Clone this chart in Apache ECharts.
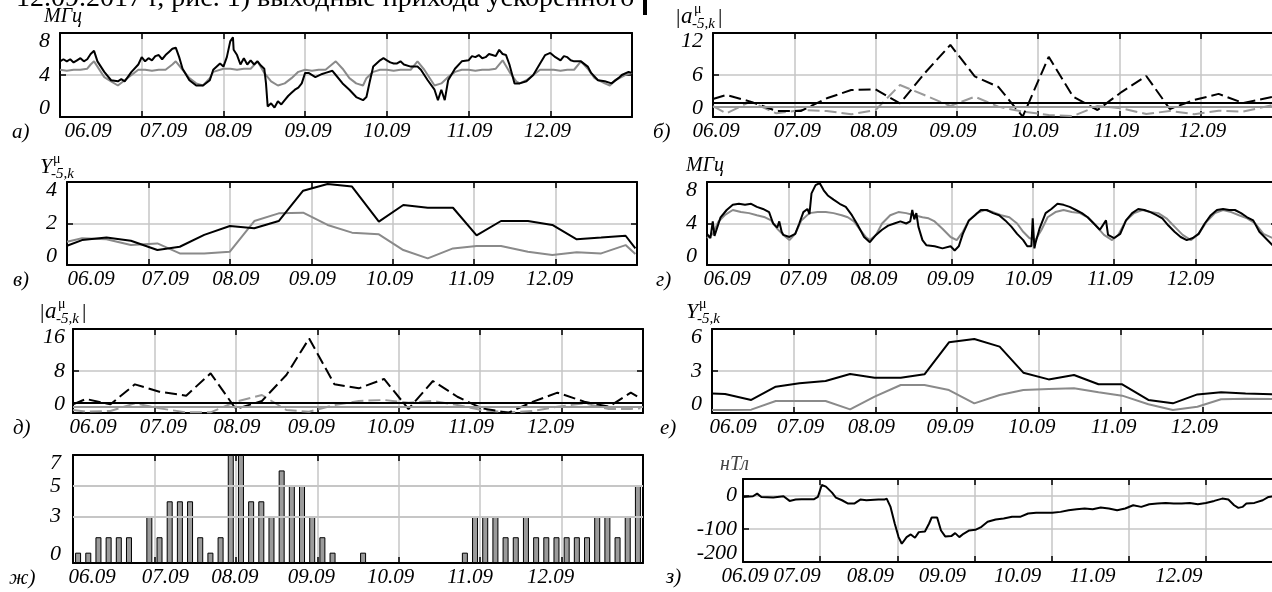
<!DOCTYPE html>
<html><head><meta charset="utf-8">
<script src="https://cdn.jsdelivr.net/npm/echarts@6/dist/echarts.min.js"></script>
<style>html,body{margin:0;padding:0;background:#fff}#c{width:1272px;height:592px}</style>
</head><body><div id="c"></div>
<script>
const FONT = '"Liberation Serif","Times New Roman",serif';
const dateLabels = ['06.09','07.09','08.09','09.09','10.09','11.09','12.09'];

// ---- panel а) (hours) ----
const aBlackHours = [0,1,2,3,4,5,6,7,8,9,10,11,13,15,17,18,19,21,23,24,25,26,27,28,29,30,31,32,33,34,35,36,38,40,42,44,45,47,48,49,50,50.8,51,52,53,54,55,56,57,58,59,60,60.5,61,62,63,64,65,66,67,68,69,70,71,72,73,75,77,78,80,81,83,85,87,89,90,91,92,94,95,96,97,98,99,100,101,103,105,106,108,110,111,112,113,114,116,118,120,121,122,123,124,125,126,127,128,129,130,131,132,133.5,135,137,139,141,142.5,144,145.5,147,148,149,150,151,153,155,156,158,160,162,164,165,167,168];
const aBlackValues = [5.3,5.5,5.3,5.5,5.2,5.4,5.6,5.3,5.5,6.0,6.3,5.3,4.3,3.5,3.4,3.6,3.4,4.3,5.0,5.7,5.3,5.6,5.4,5.8,5.9,5.5,5.9,6.2,6.5,6.6,5.7,4.6,3.5,3.0,3.0,3.5,4.5,5.1,4.8,5.7,7.2,7.6,6.4,5.9,5.0,5.6,5.0,5.4,5.0,5.3,4.9,4.6,3.2,1.0,1.3,0.9,1.5,1.2,1.6,2.0,2.3,2.6,2.8,3.2,4.2,4.2,3.8,4.1,4.2,4.4,4.0,3.2,2.6,1.9,1.6,1.9,3.4,4.8,5.4,5.6,5.4,5.2,5.1,5.1,5.3,5.0,4.8,4.8,4.5,3.5,2.6,1.6,2.6,1.6,3.5,4.6,5.3,5.4,5.8,5.7,5.9,5.6,5.7,6.0,5.9,5.8,6.4,6.0,5.9,5.0,3.2,3.2,3.4,4.0,5.1,5.9,6.1,5.7,5.4,5.8,5.7,5.4,5.3,5.3,4.8,4.2,3.5,3.4,3.2,3.7,4.0,4.3,4.2];
const aGrayHours = [0,2,4,6,8,9,10,11,13,15,17,19,21,23,25,27,29,31,33,34,36,38,40,42,44,45,48,50,52,54,56,58,60,62,64,66,68,70,72,74,76,78,81,83,85,87,89,90,92,94,96,98,100,103,105,107,109,110,112,114,116,118,120,122,124,126,128,130,132,134,135,137,139,141,143,145,147,149,151,153,155,157,160,161.5,163,166,168];
const aGrayValues = [4.5,4.4,4.5,4.5,4.6,5.0,5.3,4.8,3.8,3.4,3.0,3.5,4.0,4.5,4.5,4.4,4.5,4.5,5.0,5.3,4.5,3.7,3.2,3.0,3.7,4.3,4.6,4.6,4.5,4.6,4.6,5.3,4.2,3.4,3.0,3.2,3.7,4.3,4.5,4.4,4.5,4.5,5.3,4.6,3.7,3.2,3.0,3.7,4.3,4.5,4.5,4.4,4.5,4.5,5.3,4.5,3.5,3.0,3.2,3.8,4.3,4.5,4.5,4.4,4.5,4.5,4.6,5.4,4.3,3.4,3.2,3.5,4.0,4.5,4.5,4.5,4.4,4.5,4.5,5.3,4.6,3.7,3.2,3.0,3.5,4.0,4.2];

// ---- panel б) (days) ----
const bDays = [0,0.164,0.46,0.78,1.08,1.40,1.70,2.0,2.30,2.60,2.92,3.22,3.51,3.81,4.13,4.43,4.73,5.03,5.33,5.62,5.92,6.22,6.52,6.88];
const bBlackValues = [2.57,3.14,2.2,0.86,0.86,2.67,3.86,3.95,1.95,6.2,10.3,5.8,4.3,0.05,8.6,2.9,1.0,3.6,5.86,1.14,2.43,3.3,2.0,2.86];
const bGrayValues = [1.57,0.52,2.2,0.52,1.0,0.86,0.38,1.0,4.57,3.14,1.57,2.9,1.48,0.76,0.29,0.14,1.57,1.24,0.43,0.86,0.4,0.9,0.76,1.7];
const bThresholds = [2.0, 1.5];

// ---- panel в) (days) ----
const vDays = [0,0.185,0.485,0.785,1.11,1.385,1.685,2.0,2.3,2.6,2.9,3.2,3.5,3.83,4.13,4.43,4.74,5.03,5.33,5.66,5.96,6.26,6.56,6.86,6.98];
const vBlackValues = [0.93,1.2,1.33,1.17,0.72,0.88,1.45,1.88,1.77,2.12,3.58,3.9,3.78,2.09,2.89,2.76,2.76,1.43,2.12,2.12,1.93,1.24,1.32,1.41,0.8];
const vGrayValues = [1.12,1.29,1.24,0.96,1.04,0.56,0.56,0.64,2.12,2.49,2.52,1.93,1.56,1.48,0.72,0.32,0.8,0.92,0.92,0.64,0.48,0.61,0.56,0.96,0.53];

// ---- panel г) (hours) ----
const gBlackHours = [0,1,1.7,2.2,2.9,4.0,5.8,7.6,9.4,11.2,13,14.7,16.5,18.3,19.5,20.7,21.3,22,22.5,24.3,26,27.2,28.4,29.6,30.2,30.8,32,33.2,34.4,35.6,37.3,39.1,40.9,42.7,44.5,46.3,48,49.8,51.6,53.4,55.2,57,58.7,59.9,60.5,61.1,61.7,62.3,63.5,64.7,67.1,69.4,71.8,73,74.2,75.4,77.2,79,80.7,82.5,84.3,86.1,87.9,89.7,91.4,93.2,94.4,95.6,96,96.5,96.8,98,99.8,101.5,103.3,105.1,106.9,108.7,110.5,112.2,114,115.8,117.6,118.2,120,121.8,123.5,125.3,127.1,128.9,130.7,132.5,134.2,136,137.8,139.6,141.4,143.2,144.9,146.7,148.5,150.3,152.1,153.9,155.6,157.4,159.2,161,162.8,164.6,166.7,168];
const gBlackValues = [3.0,2.6,4.2,2.8,3.5,4.6,5.3,5.8,5.9,5.8,5.9,5.6,5.4,5.1,4.0,3.6,4.2,3.2,2.9,2.7,3.0,4.0,5.1,5.4,4.9,6.9,7.7,7.9,7.2,6.7,6.3,5.9,5.6,4.8,3.8,2.7,2.2,2.9,3.4,3.8,4.0,4.2,4.0,4.2,5.3,4.4,5.0,3.7,2.4,1.9,1.8,1.6,1.8,1.4,1.8,3.0,4.3,4.8,5.3,5.3,5.0,4.8,4.3,3.7,3.0,2.4,1.8,1.8,4.5,1.6,2.1,3.5,5.0,5.4,5.9,5.8,5.6,5.3,5.0,4.6,4.0,3.4,4.3,2.9,2.6,3.0,4.3,5.0,5.4,5.3,5.1,4.8,4.5,3.8,3.2,2.7,2.4,2.6,3.0,4.0,4.8,5.3,5.4,5.3,5.3,5.0,4.6,4.3,3.2,2.6,1.9,1.7];
const gGrayHours = [0,1.7,3.4,5.2,7.6,10,12.4,14.7,17.1,18.9,20.7,22.5,24.3,26,27.8,30.2,32.6,35,37.3,39.7,41.5,43.3,45.1,46.8,48,49.8,51.6,54,56.4,58.7,61.1,63.5,65.3,67.1,69.4,71.8,73.6,75.4,77.2,79.5,81.9,84.3,86.7,89.1,91.4,93.2,95,96.8,98.6,100.4,102.7,105.1,107.5,109.9,112.2,114.6,117,119.4,121.2,123.5,125.9,128.3,130.7,133,135.4,137.8,140.2,142.6,144.9,147.3,149.7,152.1,154.5,156.8,159.2,161.6,164,166.7,168];
const gGrayValues = [2.6,3.0,4.2,4.8,5.3,5.1,5.0,4.8,4.6,4.3,3.5,2.9,2.4,3.0,4.3,5.0,5.1,5.1,5.0,4.8,4.6,4.2,3.4,2.7,2.4,2.9,4.0,4.8,5.1,5.0,4.8,4.6,4.5,4.2,3.5,2.7,2.4,3.2,4.3,5.0,5.3,5.1,4.8,4.6,4.0,3.2,2.6,2.4,3.4,4.6,5.1,5.3,5.1,5.0,4.6,3.8,2.9,2.4,2.9,4.3,5.0,5.3,5.1,5.0,4.5,3.7,2.9,2.4,3.0,4.2,5.0,5.3,5.1,4.8,4.5,4.0,3.0,2.6,2.4];

// ---- panel д) (days) ----
const dDays = [0,0.16,0.46,0.76,1.06,1.39,1.69,2.0,2.32,2.62,2.9,3.21,3.51,3.82,4.12,4.42,4.72,5.02,5.35,5.65,5.95,6.28,6.58,6.85,6.97];
const dBlackValues = [1.65,2.67,1.65,5.46,4.06,3.3,7.56,0.76,2.29,7.24,14.2,5.46,4.7,6.48,0.76,6.1,3.1,0.89,0.05,2.16,3.87,2.16,1.2,3.87,2.8];
const dGrayValues = [0.57,0.25,0.38,1.84,0.89,0.13,0.13,2.16,3.43,0.57,0.25,1.52,2.29,2.48,1.97,2.29,1.52,0.57,0.13,0.38,1.2,1.84,0.76,0.76,0.89];
const dThresholds = [1.9, 1.1];

// ---- panel е) (days) ----
const eDays = [0,0.16,0.48,0.78,1.07,1.39,1.69,1.99,2.31,2.6,2.9,3.21,3.52,3.81,4.12,4.43,4.73,5.02,5.34,5.64,5.94,6.23,6.53,6.86];
const eBlackValues = [1.4,1.36,0.93,1.88,2.12,2.29,2.79,2.52,2.52,2.76,5.05,5.29,4.74,2.88,2.4,2.71,2.05,2.05,0.93,0.69,1.33,1.48,1.4,1.33];
const eGrayValues = [0.21,0.21,0.24,0.86,0.86,0.86,0.26,1.17,2.0,2.0,1.64,0.69,1.29,1.64,1.71,1.76,1.48,1.24,0.62,0.21,0.45,0.98,1.02,1.0];

// ---- panel ж) Kp, 3-hour bins ----
const kpValues = [0.67,0.67,1.67,1.67,1.67,1.67,0,3,1.67,4,4,4,1.67,0.67,1.67,7,7,4,4,3,6,5,5,3,1.67,0.67,0,0,0.67,0,0,0,0,0,0,0,0,0,0.67,3,3,3,1.67,1.67,3,1.67,1.67,1.67,1.67,1.67,1.67,3,3,1.67,3,5];

// ---- panel з) Dst (hours) ----
const zHours = [0,3.1,4.4,5.7,9.4,12.6,14.5,16.4,18.2,22,23.3,24.5,25.8,27.7,28.9,30.8,32.7,34.6,36.5,38.4,42.1,44,44.7,45.9,47.2,48.4,49.4,50.9,52.2,53.5,54.7,56.6,57.9,58.7,60.4,61.6,62.9,64.8,66,67.3,68.6,70.4,72.3,74.2,76.1,78.6,81.1,83.7,86.2,88.7,91.2,93.7,96.2,98.8,101.3,103.8,106.3,108.8,111.3,113.8,116.4,118.9,121.4,123.9,126.4,128.9,131.5,134,136.5,139,141.5,144,146.6,149.1,151,152.8,154.1,155.4,156.6,159.1,161.7,163.5,165.2];
const zValues = [-4,-2,6,-4,-6,-2,-16,-12,-11,-11,-4,32,27,9,-6,-14,-24,-24,-12,-14,-12,-12,-9,-34,-84,-125,-145,-125,-117,-127,-110,-108,-84,-66,-66,-105,-123,-122,-113,-125,-115,-105,-103,-94,-79,-72,-69,-64,-64,-54,-52,-52,-52,-49,-44,-41,-39,-41,-36,-39,-44,-39,-29,-34,-26,-24,-22,-24,-24,-22,-26,-22,-16,-9,-12,-29,-37,-34,-24,-22,-14,-4,-2];

// ---- y tick labels ----
const aTicks = [0,4,8], bTicks = [0,6,12], vTicks = [0,2,4], gTicks = [0,4,8];
const dTicks = [0,8,16], eTicks = [0,3,6], kpTicks = [0,3,5,7], zTicks = [-200,-100,0];
const kpGridLines = [3,5];

// ================= build =================
const GRID = '#c6c6c6';
const XFS = 21, YFS = 22;
const grids = [], xAxes = [], yAxes = [], series = [], graphics = [];
const axisLine = {show:true, onZero:false, lineStyle:{color:'#000', width:2}};
const axisTick = {show:true, inside:true, length:6, lineStyle:{color:'#000', width:1.5}};

function xLabelCfg(offs){
  const rich = {};
  offs.forEach((o,i)=>{
    rich['o'+i] = {fontFamily:FONT, fontStyle:'italic', fontSize:XFS, color:'#000',
      padding: o>=0 ? [0,0,0,2*o] : [0,-2*o,0,0]};
  });
  return {show:true, margin:4, hideOverlap:false, showMinLabel:true, showMaxLabel:true,
    fontFamily:FONT, fontStyle:'italic', fontSize:XFS, color:'#000',
    formatter:(v)=>{const i=Math.round(v); if(Math.abs(v-i)>1e-6||i<0||i>=dateLabels.length) return ''; return '{o'+i+'|'+dateLabels[i]+'}';},
    rich};
}

function addPanel(p){
  const gi = grids.length;
  grids.push({left:p.left, top:p.top, width:p.width, height:p.height, show:false, containLabel:false, outerBoundsMode:'none'});
  const xi = xAxes.length;
  xAxes.push({gridIndex:gi, type:'value', position:'bottom', min:0, max:7, interval:1, axisLine, axisTick,
    splitLine:{show:true, showMinLine:false, showMaxLine:false, lineStyle:{color:GRID, width:1.5}},
    axisLabel:xLabelCfg(p.offs)});
  xAxes.push({gridIndex:gi, type:'value', position:'top', min:0, max:7, interval:1, axisLine, axisTick,
    splitLine:{show:false}, axisLabel:{show:false}});
  const yi = yAxes.length;
  const base = {gridIndex:gi, type:'value', min:p.yMin, max:p.yMax};
  if (p.yInt) base.interval = p.yInt;
  const tick = Object.assign({}, axisTick);
  const lab = {show:true, margin:p.yMargin, fontFamily:FONT, fontStyle:'italic', fontSize:YFS, lineHeight:17, color:'#000',
    verticalAlignMinLabel:'bottom', verticalAlignMaxLabel:'top', hideOverlap:false, showMinLabel:true, showMaxLabel:true,
    formatter:(v)=> p.yTicks.indexOf(v)>=0 ? String(v) : ''};
  if (p.custom){ tick.customValues = p.yTicks; lab.customValues = p.yTicks; }
  yAxes.push(Object.assign({}, base, {position:'left', axisLine, axisTick:tick,
    splitLine:{show:!p.custom, showMinLine:false, showMaxLine:false, lineStyle:{color:GRID, width:1.5}},
    axisLabel:lab}));
  yAxes.push(Object.assign({}, base, {position:'right', axisLine, axisTick:tick, splitLine:{show:false}, axisLabel:{show:false}}));
  graphics.push({type:'text', x:p.letterX, y:p.top+p.height+15, silent:true,
    style:{text:p.letter, fill:'#000', fontFamily:FONT, fontStyle:'italic', fontSize:XFS, align:'left', verticalAlign:'middle'}});
  return {xi, yi};
}

function line(ax, xs, ys, scale, color, width, dash){
  series.push({type:'line', xAxisIndex:ax.xi, yAxisIndex:ax.yi, data:xs.map((x,i)=>[x*scale, ys[i]]),
    symbol:'none', showSymbol:false, silent:true, z:3,
    lineStyle:{color, width, type:dash||'solid'}});
}
function hLines(ax, vals, colors, z){
  series.push({type:'line', xAxisIndex:ax.xi, yAxisIndex:ax.yi, data:[], silent:true, z:z,
    markLine:{silent:true, symbol:['none','none'], animation:false, label:{show:false},
      data: vals.map((v,i)=>({yAxis:v, lineStyle:{color:colors[i], width:2, type:'solid'}}))}});
}

const H = 1/24;
const BLACK = '#000', GRAY = '#8a8a8a';
const DASH = [12,5];

// а)
const A = addPanel({left:60, top:33, width:572, height:84, yMin:0, yMax:8, yInt:4, yTicks:aTicks, yMargin:10,
  offs:[28,22,5,3,0,1,-3], letter:'а)', letterX:12});
line(A, aGrayHours, aGrayValues, H, GRAY, 2);
line(A, aBlackHours, aBlackValues, H, BLACK, 2);

// б)
const B = addPanel({left:713, top:33, width:569, height:84, yMin:0, yMax:12, yInt:6, yTicks:bTicks, yMargin:10,
  offs:[3,3,-2,-4,-3,-3,2], letter:'б)', letterX:653});
hLines(B, bThresholds, [BLACK, '#999'], 2);
line(B, bDays, bGrayValues, 1, '#9a9a9a', 2, DASH);
line(B, bDays, bBlackValues, 1, BLACK, 2, DASH);

// в)
const V = addPanel({left:67, top:182, width:570, height:83, yMin:0, yMax:4, yInt:2, yTicks:vTicks, yMargin:10,
  offs:[24,17,6,1,-3,-3,-6], letter:'в)', letterX:13});
line(V, vDays, vGrayValues, 1, GRAY, 2);
line(V, vDays, vBlackValues, 1, BLACK, 2);

// г)
const G = addPanel({left:707, top:182, width:570, height:83, yMin:0, yMax:8, yInt:4, yTicks:gTicks, yMargin:10,
  offs:[20,15,4,-1,-4,-4,-5], letter:'г)', letterX:656});
line(G, gGrayHours, gGrayValues, H, GRAY, 2);
line(G, gBlackHours, gBlackValues, H, BLACK, 2);

// д)
const D = addPanel({left:73, top:329, width:570, height:84, yMin:0, yMax:16, yInt:8, yTicks:dTicks, yMargin:8,
  offs:[20,9,1,-6,-8,-9,-11], letter:'д)', letterX:13});
hLines(D, dThresholds, [BLACK, '#999'], 2);
line(D, dDays, dGrayValues, 1, '#9a9a9a', 2, DASH);
line(D, dDays, dBlackValues, 1, BLACK, 2, DASH);

// е)
const E = addPanel({left:712, top:329, width:572, height:84, yMin:0, yMax:6, yInt:3, yTicks:eTicks, yMargin:10,
  offs:[21,7,-4,-7,-7,-7,-8], letter:'е)', letterX:660});
line(E, eDays, eGrayValues, 1, GRAY, 2);
line(E, eDays, eBlackValues, 1, BLACK, 2);

// ж)
const K = addPanel({left:73, top:455, width:570, height:108, yMin:0, yMax:7, yTicks:kpTicks, custom:true, yMargin:12,
  offs:[19,11,-1,-6,-8,-10,-11], letter:'ж)', letterX:9});
hLines(K, kpGridLines, [GRID, GRID], 1);
series.push({type:'bar', xAxisIndex:K.xi, yAxisIndex:K.yi, silent:true, z:2, barWidth:6,
  data: kpValues.map((v,i)=>[(i*3+1.5)/24, v]),
  itemStyle:{color:'#9b9b9b', borderColor:'#000', borderWidth:1}});

// з)
const Z = addPanel({left:743, top:479, width:540, height:83, yMin:-200, yMax:50, yInt:100, yTicks:zTicks, yMargin:6,
  offs:[2,-23,-27,-32,-34,-36,-27], letter:'з)', letterX:666});
line(Z, zHours, zValues, H, BLACK, 2);

// ---- axis unit labels ----
function txt(x, y, text, size, italic, color){
  graphics.push({type:'text', x, y, silent:true,
    style:{text, fill:color||'#000', fontFamily:FONT, fontStyle:italic?'italic':'normal', fontSize:size, align:'left', verticalAlign:'middle'}});
}
function absA(x0, y0){ txt(x0, y0, '|', 22, false); txt(x0+5, y0, 'a', 23, true); txt(x0+18, y0-8, 'μ', 14, false); txt(x0+16, y0+7, '-5,k', 15, true); txt(x0+42, y0, '|', 22, false); }
function yLab(x0, y0){ txt(x0, y0, 'Y', 22, true); txt(x0+13, y0-8, 'μ', 14, false); txt(x0+11, y0+7, '-5,k', 15, true); }
txt(44, 17, 'МГц', 20, true);
absA(676, 17);
yLab(40, 167);
txt(686, 166, 'МГц', 20, true);
absA(40, 312);
yLab(686, 312);
txt(720, 465, 'нТл', 20, true, '#444');

// clipped header text + marker
graphics.push({type:'text', x:16, y:-1, silent:true,
  style:{text:'12.09.2017 г, рис. 1) выходные прихода ускоренного', fill:'#000', fontFamily:FONT, fontSize:28, align:'left', verticalAlign:'middle'}});
graphics.push({type:'rect', silent:true, shape:{x:643, y:0, width:4, height:15}, style:{fill:'#000'}});

const chart = echarts.init(document.getElementById('c'), null, {renderer:'canvas'});
chart.setOption({animation:false, backgroundColor:'#fff', grid:grids, xAxis:xAxes, yAxis:yAxes, series, graphic:graphics});
</script></body></html>
